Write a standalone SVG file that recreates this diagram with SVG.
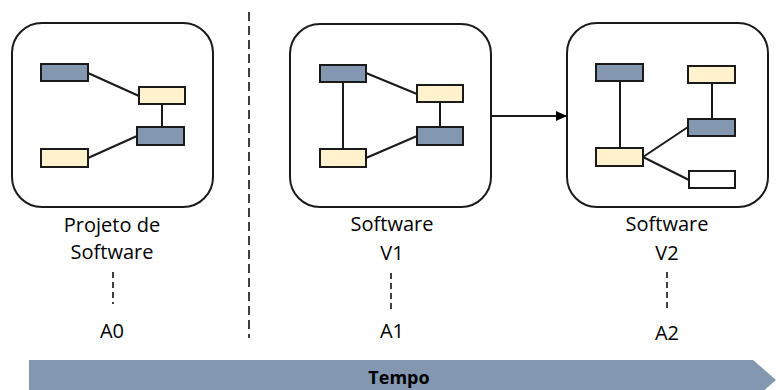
<svg xmlns="http://www.w3.org/2000/svg" width="776" height="390" viewBox="0 0 776 390">
  <style>
    .frame { fill: #ffffff; stroke: #1a1a1a; stroke-width: 2; }
    .mod { stroke: #1a1a1a; stroke-width: 2; }
    .blue { fill: #8497b0; }
    .yellow { fill: #fff2cc; }
    .white { fill: #ffffff; }
    .link { stroke: #1a1a1a; stroke-width: 2; fill: none; }
    .label { font-family: "Open Sans", "Noto Sans", sans-serif; font-size: 20px; fill: #000000; text-anchor: middle; }
    .tick { stroke: #000000; stroke-width: 1.5; stroke-dasharray: 6 4; fill: none; }
    .sep { stroke: #000000; stroke-width: 1.5; stroke-dasharray: 9 5; fill: none; }
  </style>
  <defs>
    <marker id="head" markerWidth="11" markerHeight="10" refX="10" refY="5" orient="auto" markerUnits="userSpaceOnUse">
      <path d="M0,0 L11,5 L0,10 Z" fill="#000000"/>
    </marker>
  </defs>

  <!-- time axis -->
  <g id="tempo">
    <path d="M29,360 H753 L776,380 L753,400 H29 Z" fill="#8497b0"/>
    <text x="399" y="384" font-family="Open Sans, Noto Sans, sans-serif" font-size="18" font-weight="bold" text-anchor="middle" fill="#000000">Tempo</text>
  </g>

  <!-- divider between design and releases -->
  <line class="sep" x1="249" y1="12" x2="249" y2="338"/>

  <!-- Projeto de Software -->
  <g id="projeto">
    <rect class="frame" x="12" y="23" width="201" height="184" rx="30"/>
    <line class="link" x1="88" y1="73" x2="139" y2="96"/>
    <line class="link" x1="162" y1="104" x2="162" y2="127"/>
    <line class="link" x1="88" y1="158" x2="137" y2="136"/>
    <rect class="mod blue" x="41" y="64" width="47" height="17"/>
    <rect class="mod yellow" x="139" y="87" width="46" height="17"/>
    <rect class="mod blue" x="137" y="127" width="47" height="18"/>
    <rect class="mod yellow" x="41" y="149" width="47" height="18"/>
    <text class="label" x="112" y="232">Projeto de</text>
    <text class="label" x="112" y="259">Software</text>
    <line class="tick" x1="113" y1="272" x2="113" y2="304"/>
    <text class="label" x="112" y="338">A0</text>
  </g>

  <!-- Software V1 -->
  <g id="software-v1">
    <rect class="frame" x="290" y="24" width="201" height="183" rx="30"/>
    <line class="link" x1="343" y1="82" x2="343" y2="149"/>
    <line class="link" x1="366" y1="73" x2="417" y2="94"/>
    <line class="link" x1="440" y1="102" x2="440" y2="127"/>
    <line class="link" x1="366" y1="158" x2="417" y2="136"/>
    <rect class="mod blue" x="320" y="65" width="46" height="17"/>
    <rect class="mod yellow" x="417" y="85" width="46" height="17"/>
    <rect class="mod blue" x="417" y="127" width="46" height="18"/>
    <rect class="mod yellow" x="320" y="149" width="46" height="18"/>
    <text class="label" x="392" y="231">Software</text>
    <text class="label" x="392" y="260">V1</text>
    <line class="tick" x1="391" y1="273" x2="391" y2="312"/>
    <text class="label" x="392" y="338">A1</text>
  </g>

  <!-- Software V2 -->
  <g id="software-v2">
    <rect class="frame" x="567" y="23" width="201" height="184" rx="30"/>
    <line class="link" x1="620" y1="81" x2="620" y2="148"/>
    <line class="link" x1="712" y1="83" x2="712" y2="119"/>
    <line class="link" x1="643" y1="157" x2="688" y2="127"/>
    <line class="link" x1="643" y1="157" x2="689" y2="180"/>
    <rect class="mod blue" x="596" y="64" width="47" height="17"/>
    <rect class="mod yellow" x="688" y="66" width="47" height="17"/>
    <rect class="mod blue" x="688" y="119" width="47" height="17"/>
    <rect class="mod white" x="689" y="171" width="46" height="17"/>
    <rect class="mod yellow" x="596" y="148" width="47" height="18"/>
    <text class="label" x="667" y="231">Software</text>
    <text class="label" x="667" y="260">V2</text>
    <line class="tick" x1="667" y1="272" x2="667" y2="310"/>
    <text class="label" x="667" y="340">A2</text>
  </g>

  <!-- release evolution -->
  <g id="connectors">
    <line class="link" x1="491" y1="116" x2="566" y2="116" marker-end="url(#head)"/>
  </g>
</svg>
